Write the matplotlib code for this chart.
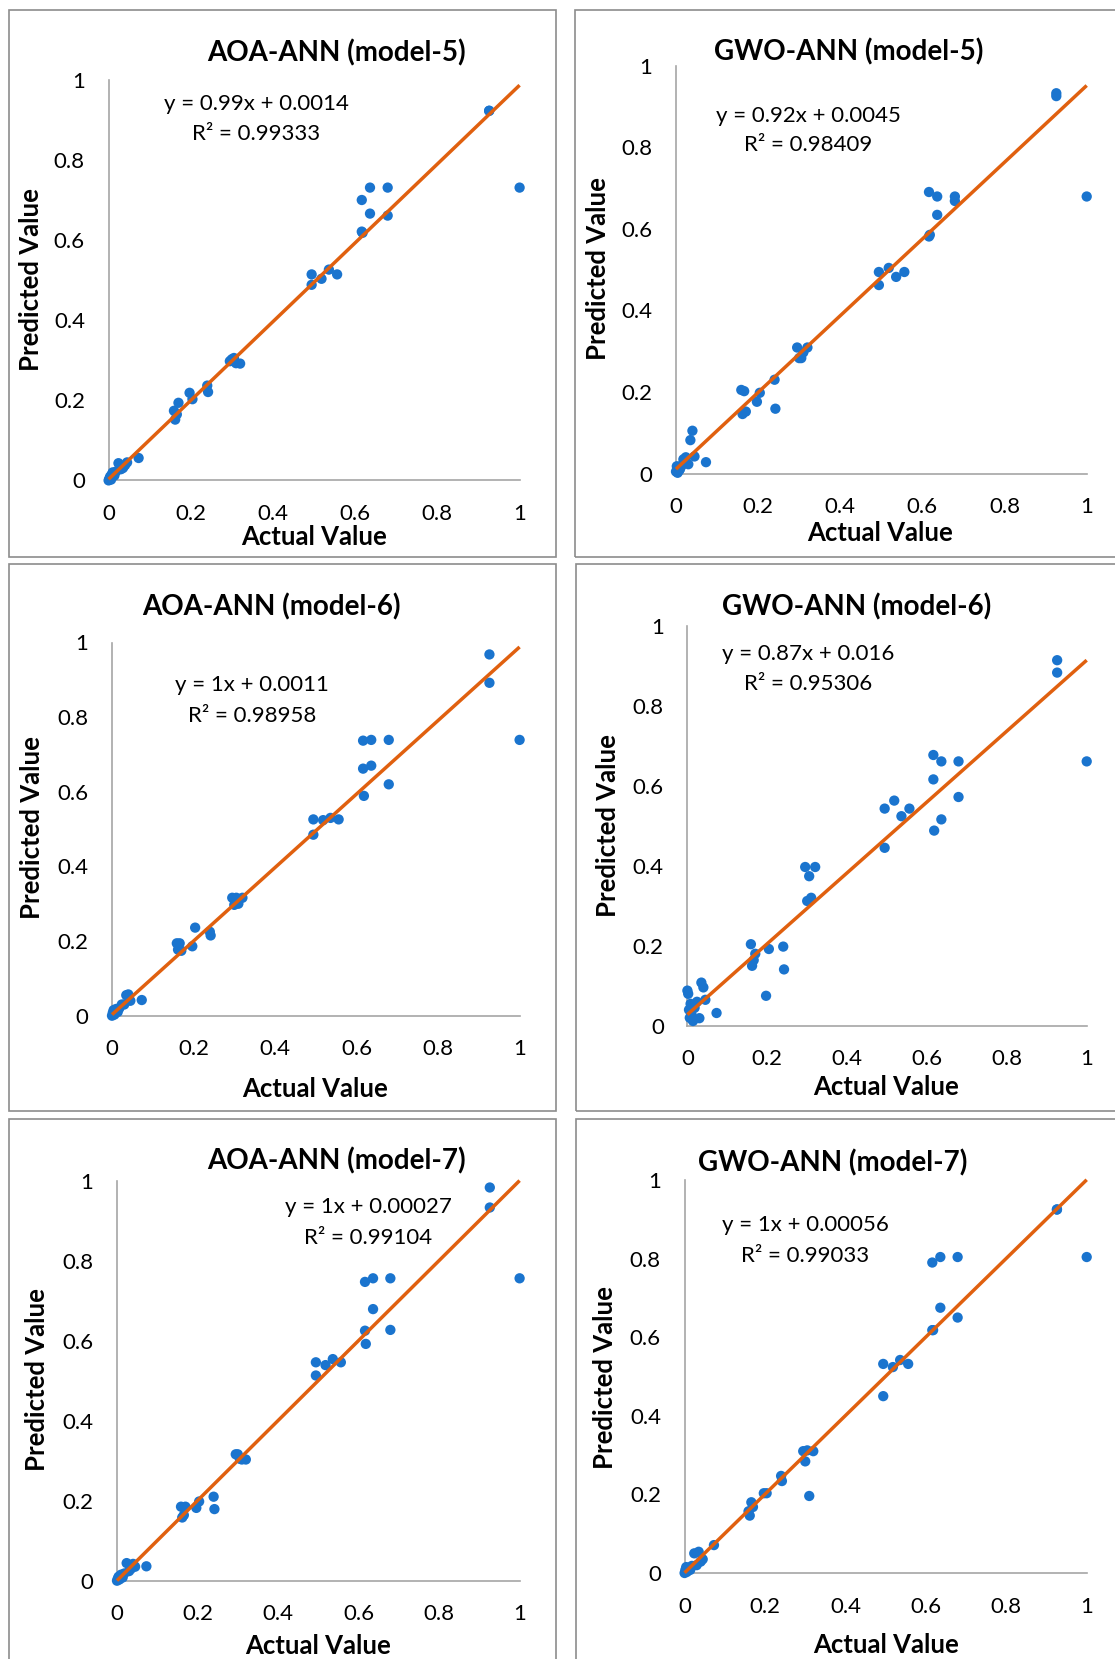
import matplotlib
matplotlib.use("Agg")
import matplotlib.pyplot as plt
from matplotlib.patches import Rectangle

W, H = 1115, 1659

# Actual (observed) values, shared by all six panels
actual = [0.000, 0.002, 0.004, 0.006, 0.008, 0.010, 0.014, 0.018, 0.024, 0.030,
          0.035, 0.040, 0.045, 0.073, 0.159, 0.162, 0.166, 0.170, 0.197, 0.204,
          0.240, 0.242, 0.295, 0.300, 0.305, 0.310, 0.320, 0.494, 0.494, 0.518,
          0.536, 0.556, 0.616, 0.616, 0.618, 0.636, 0.636, 0.679, 0.679, 0.926,
          0.926, 1.000]

# Predicted values per model
aoa_m5 = [0.000, 0.005, 0.010, 0.002, 0.015, 0.020, 0.012, 0.022, 0.043, 0.028,
          0.031, 0.038, 0.045, 0.056, 0.174, 0.152, 0.165, 0.194, 0.219, 0.203,
          0.237, 0.221, 0.298, 0.303, 0.306, 0.293, 0.292, 0.515, 0.489, 0.504,
          0.527, 0.515, 0.701, 0.622, 0.619, 0.732, 0.667, 0.732, 0.662, 0.924,
          0.924, 0.732]
gwo_m5 = [0.005, 0.018, 0.002, 0.010, 0.008, 0.012, 0.020, 0.035, 0.040, 0.023,
          0.082, 0.105, 0.042, 0.028, 0.205, 0.146, 0.202, 0.152, 0.176, 0.198,
          0.230, 0.159, 0.309, 0.283, 0.283, 0.297, 0.309, 0.494, 0.462, 0.504,
          0.482, 0.494, 0.690, 0.581, 0.585, 0.679, 0.634, 0.679, 0.668, 0.932,
          0.925, 0.679]
aoa_m6 = [0.000, 0.008, 0.015, 0.003, 0.012, 0.018, 0.010, 0.020, 0.030, 0.030,
          0.055, 0.057, 0.040, 0.042, 0.194, 0.177, 0.194, 0.174, 0.186, 0.236,
          0.225, 0.215, 0.316, 0.297, 0.316, 0.300, 0.316, 0.526, 0.485, 0.524,
          0.530, 0.526, 0.737, 0.662, 0.589, 0.739, 0.670, 0.739, 0.620, 0.968,
          0.892, 0.739]
gwo_m6 = [0.088, 0.080, 0.040, 0.020, 0.055, 0.030, 0.012, 0.045, 0.060, 0.019,
          0.108, 0.096, 0.065, 0.032, 0.204, 0.150, 0.164, 0.180, 0.075, 0.192,
          0.198, 0.141, 0.397, 0.312, 0.374, 0.320, 0.397, 0.543, 0.445, 0.563,
          0.524, 0.543, 0.677, 0.616, 0.488, 0.661, 0.516, 0.661, 0.572, 0.914,
          0.883, 0.661]
aoa_m7 = [0.000, 0.005, 0.010, 0.003, 0.012, 0.015, 0.008, 0.018, 0.044, 0.024,
          0.030, 0.042, 0.035, 0.036, 0.185, 0.158, 0.164, 0.185, 0.182, 0.198,
          0.210, 0.179, 0.316, 0.316, 0.305, 0.303, 0.303, 0.546, 0.513, 0.539,
          0.554, 0.546, 0.747, 0.625, 0.592, 0.756, 0.679, 0.756, 0.627, 0.983,
          0.933, 0.756]
gwo_m7 = [0.000, 0.008, 0.015, 0.003, 0.010, 0.012, 0.008, 0.018, 0.050, 0.020,
          0.054, 0.029, 0.035, 0.071, 0.157, 0.146, 0.180, 0.168, 0.203, 0.203,
          0.247, 0.234, 0.310, 0.284, 0.312, 0.196, 0.310, 0.532, 0.450, 0.524,
          0.542, 0.532, 0.790, 0.618, 0.618, 0.804, 0.675, 0.804, 0.650, 0.925,
          0.925, 0.804]

titles = ["AOA-ANN (model-5)", "GWO-ANN (model-5)",
          "AOA-ANN (model-6)", "GWO-ANN (model-6)",
          "AOA-ANN (model-7)", "GWO-ANN (model-7)"]
equations = ["y = 0.99x + 0.0014", "y = 0.92x + 0.0045",
             "y = 1x + 0.0011", "y = 0.87x + 0.016",
             "y = 1x + 0.00027", "y = 1x + 0.00056"]
r2_values = ["0.99333", "0.98409", "0.98958", "0.95306", "0.99104", "0.99033"]
# trend line (intercept, slope) as drawn
trend = [(0.003, 0.985), (0.011, 0.94), (0.003, 0.985),
         (0.028, 0.886), (0.0003, 1.0), (0.0006, 1.0)]
tick_vals = [0, 0.2, 0.4, 0.6, 0.8, 1]
tick_labels = ["0", "0.2", "0.4", "0.6", "0.8", "1"]

predicted = [aoa_m5, gwo_m5, aoa_m6, gwo_m6, aoa_m7, gwo_m7]

# layout in pixels (x0, x1, y_top, y_bottom) of each plot area
areas = [(108.6, 519.6, 80.4, 480.4), (676, 1086.7, 65.5, 473.6),
         (112, 519.6, 642.5, 1015.7), (687.4, 1086.7, 625.8, 1025.8),
         (117, 519.6, 1180.7, 1580.7), (684.6, 1086.7, 1180, 1573)]
frames = [(9, 10), (575, 10), (9, 564), (576, 564), (9, 1119), (576, 1119)]
title_pos = [(336, 53), (849, 52), (271, 607), (857, 607), (336, 1161), (833, 1163)]
eq_pos = [(256, 104, 134), (808, 116, 145), (252, 685, 716),
          (808, 654, 684), (368, 1207, 1238), (805, 1225, 1256)]
ylab_pos = [(31, 280), (598, 269), (32, 828), (608, 826), (37, 1380), (605, 1378)]
xlab_pos = [(314, 537), (880, 533), (315, 1089), (886, 1087), (318, 1646), (886, 1645)]

FONT = "Lato"
BLUE = "#1A74CE"
ORANGE = "#E0600F"
GRAY = "#A6A6A6"


def fx(x):
    return x / W


def fy(y):
    return 1 - y / H


fig = plt.figure(figsize=(W / 100, H / 100), dpi=100)

for i in range(6):
    # chart frame
    left, top = frames[i]
    fig.add_artist(Rectangle((fx(left), fy(top + 547)), 547 / W, 547 / H,
                             transform=fig.transFigure, fill=False,
                             edgecolor="#8C8C8C", linewidth=1.2))

    x0, x1, yt, yb = areas[i]
    ax = fig.add_axes([fx(x0), fy(yb), (x1 - x0) / W, (yb - yt) / H])
    ax.set_xlim(0, 1)
    ax.set_ylim(0, 1)
    ax.patch.set_alpha(0)
    for s in ["top", "right"]:
        ax.spines[s].set_visible(False)
    for s in ["left", "bottom"]:
        ax.spines[s].set_color(GRAY)
        ax.spines[s].set_linewidth(1.2)
    ax.set_xticks(tick_vals)
    ax.set_yticks(tick_vals)
    ax.set_xticklabels(tick_labels, fontsize=16, family=FONT)
    ax.set_yticklabels(tick_labels, fontsize=16, family=FONT)
    ax.tick_params(axis="x", length=0, pad=17)
    ax.tick_params(axis="y", length=0, pad=17)

    ax.scatter(actual, predicted[i], s=55, color=BLUE, edgecolors="none",
               zorder=3, clip_on=False)
    b, m = trend[i]
    ax.plot([0, 1], [b, b + m], color=ORANGE, linewidth=2.5, zorder=4,
            solid_capstyle="butt", clip_on=False)

    tx, ty = title_pos[i]
    fig.text(fx(tx), fy(ty), titles[i], ha="center", va="center",
             fontsize=20, fontweight="bold", family=FONT)
    ex, ey1, ey2 = eq_pos[i]
    fig.text(fx(ex), fy(ey1), equations[i], ha="center", va="center",
             fontsize=16, family=FONT)
    fig.text(fx(ex), fy(ey2), "R² = " + r2_values[i], ha="center", va="center",
             fontsize=16, family=FONT)
    lx, ly = ylab_pos[i]
    fig.text(fx(lx), fy(ly), "Predicted Value", ha="center", va="center",
             rotation=90, fontsize=18.5, fontweight="bold", family=FONT)
    lx, ly = xlab_pos[i]
    fig.text(fx(lx), fy(ly), "Actual Value", ha="center", va="center",
             fontsize=18.5, fontweight="bold", family=FONT)

fig.savefig("out.png", dpi=100, facecolor="white")
